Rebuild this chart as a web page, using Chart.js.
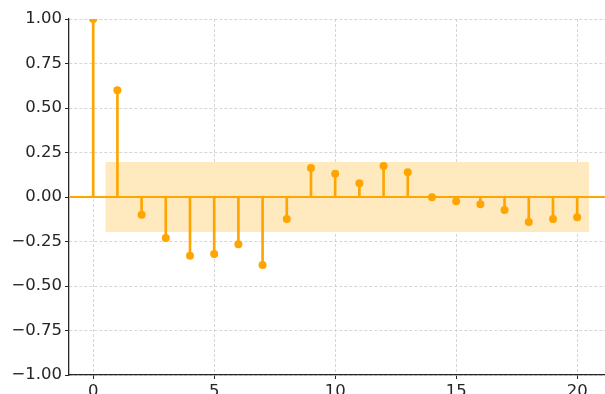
<!DOCTYPE html>
<html>
<head>
<meta charset="utf-8">
<script src="https://cdn.jsdelivr.net/npm/chart.js@4/dist/chart.umd.min.js"></script>
<style>
  html, body { margin: 0; padding: 0; background: #ffffff; }
  canvas { display: block; }
</style>
</head>
<body>
<canvas id="acf" width="605" height="394"></canvas>
<script>
// Autocorrelation by lag
const lags = [0, 1, 2, 3, 4, 5, 6, 7, 8, 9, 10, 11, 12, 13, 14, 15, 16, 17, 18, 19, 20];
const acfValues = [1.00, 0.60, -0.10, -0.23, -0.33, -0.32, -0.265, -0.382, -0.124, 0.163,
                   0.131, 0.077, 0.174, 0.139, -0.002, -0.024, -0.041, -0.073, -0.140, -0.124, -0.114];
// Confidence band limits and its lag span
const confLimit = 0.196;
const bandLags = [0.5, 20.5];
// Axis ranges and tick labels
const xRange = [-1, 21.15];
const yRange = [-1, 1];
const xTicks = [0, 5, 10, 15, 20];
const yTicks = [-1, -0.75, -0.5, -0.25, 0, 0.25, 0.5, 0.75, 1];

const ORANGE = '#FFA500';
const BAND = '#FFE9BF';
const INK = '#262626';
const GRID = '#cccccc';

const points = lags.map((l, i) => ({ x: l, y: acfValues[i] }));

new Chart(document.getElementById('acf'), {
  type: 'scatter',
  data: {
    datasets: [
      {
        type: 'line',
        data: bandLags.map(x => ({ x, y: confLimit })),
        borderWidth: 0,
        pointRadius: 0,
        backgroundColor: BAND,
        fill: '+1',
        order: 5
      },
      {
        type: 'line',
        data: bandLags.map(x => ({ x, y: -confLimit })),
        borderWidth: 0,
        pointRadius: 0,
        fill: false,
        order: 6
      },
      {
        type: 'line',
        data: xRange.map(x => ({ x, y: 0 })),
        borderColor: ORANGE,
        borderWidth: 2,
        pointRadius: 0,
        fill: false,
        order: 3
      },
      {
        type: 'bar',
        data: points,
        backgroundColor: ORANGE,
        borderWidth: 0,
        barThickness: 2,
        order: 2
      },
      {
        type: 'scatter',
        data: points,
        backgroundColor: ORANGE,
        borderColor: ORANGE,
        pointRadius: 4,
        pointBorderWidth: 0,
        clip: 0,
        order: 1
      }
    ]
  },
  options: {
    responsive: false,
    animation: false,
    layout: { autoPadding: false, padding: { top: 19, left: 0, right: 0, bottom: 0 } },
    plugins: { legend: { display: false }, tooltip: { enabled: false } },
    scales: {
      x: {
        type: 'linear',
        min: xRange[0],
        max: xRange[1],
        offset: false,
        afterBuildTicks: s => { s.ticks = xTicks.map(v => ({ value: v })); },
        afterFit: s => { s.height = 19; s.paddingLeft = 0; s.paddingRight = 0; },
        ticks: {
          color: INK,
          padding: 3,
          font: { family: 'DejaVu Sans', size: 16.5 },
          maxRotation: 0,
          callback: v => String(v)
        },
        grid: {
          color: GRID,
          lineWidth: 0.8,
          tickColor: INK,
          tickLength: 4,
          tickWidth: 1,
          tickBorderDash: [],
          offset: false
        },
        border: { display: true, color: INK, width: 1.3, dash: [3, 2] }
      },
      y: {
        type: 'linear',
        min: yRange[0],
        max: yRange[1],
        afterBuildTicks: s => { s.ticks = yTicks.map(v => ({ value: v })); },
        afterFit: s => { s.width = 69; },
        ticks: {
          color: INK,
          padding: 3,
          font: { family: 'DejaVu Sans', size: 16.5 },
          callback: v => (v < 0 ? '\u2212' : '') + Math.abs(v).toFixed(2)
        },
        grid: {
          color: GRID,
          lineWidth: 0.8,
          tickColor: INK,
          tickLength: 4,
          tickWidth: 1,
          tickBorderDash: []
        },
        border: { display: true, color: INK, width: 1.3, dash: [3, 2] }
      }
    }
  }
});
</script>
</body>
</html>
